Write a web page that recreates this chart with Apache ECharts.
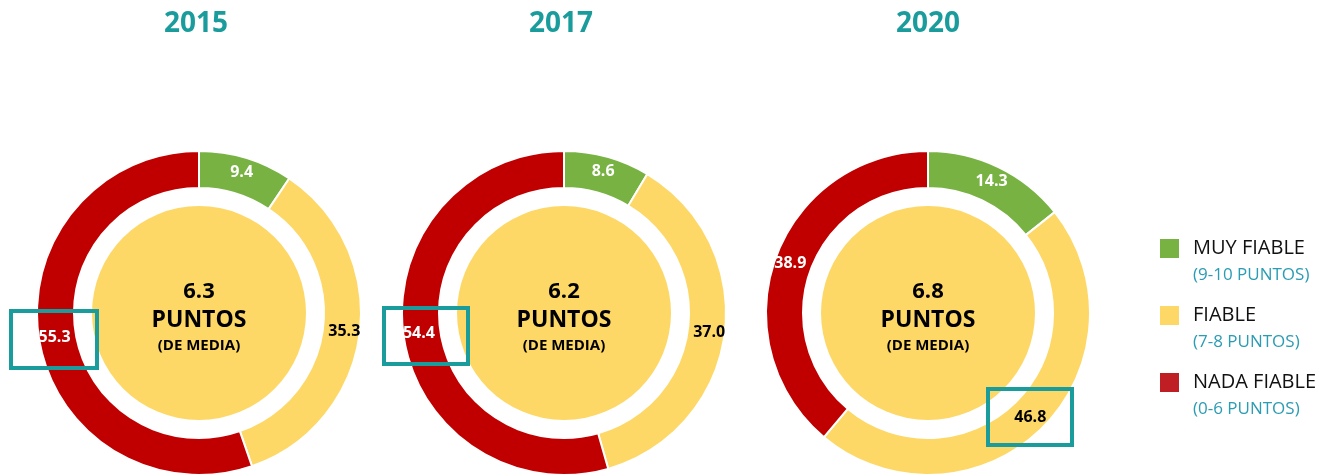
<!DOCTYPE html>
<html>
<head>
<meta charset="utf-8">
<script src="https://cdn.jsdelivr.net/npm/echarts@6/dist/echarts.min.js"></script>
<style>
html, body { margin: 0; padding: 0; background: #fff; }
#main { width: 1322px; height: 475px; }
</style>
</head>
<body>
<div id="main"></div>
<script>
var years = ['2015', '2017', '2020'];
var categories = ['MUY FIABLE', 'FIABLE', 'NADA FIABLE'];
var ranges = ['(9-10 PUNTOS)', '(7-8 PUNTOS)', '(0-6 PUNTOS)'];
var muyFiable = [9.4, 8.6, 14.3];
var fiable = [35.3, 37.0, 46.8];
var nadaFiable = [55.3, 54.4, 38.9];
var mediaPuntos = [6.3, 6.2, 6.8];

var chartDom = document.getElementById('main');
var myChart = echarts.init(chartDom);
var option;

var colors = ['#77b243', '#fdd867', '#c00000'];
var legendColors = ['#77b243', '#fdd867', '#be1e24'];
var labelColors = ['#fff', '#000', '#fff'];
var teal = '#1b9c9c';
var centersX = [199, 564, 928];
var titleX = [196, 561, 928];
var centerY = 313;

var series = [];
years.forEach(function (year, i) {
    var values = [muyFiable[i], fiable[i], nadaFiable[i]];
    series.push({
        type: 'pie',
        center: [centersX[i], centerY],
        radius: [125, 162],
        startAngle: 90,
        clockwise: true,
        silent: true,
        avoidLabelOverlap: false,
        itemStyle: {
            borderColor: '#fff',
            borderWidth: 2
        },
        label: {
            show: true,
            position: 'inside',
            fontFamily: 'Open Sans',
            fontWeight: 'bold',
            fontSize: 16,
            formatter: function (p) {
                return p.value.toFixed(1);
            }
        },
        labelLine: { show: false },
        data: values.map(function (v, k) {
            return {
                name: categories[k],
                value: v,
                itemStyle: { color: colors[k] },
                label: { color: labelColors[k] }
            };
        })
    });
    // circulo central con la media
    series.push({
        type: 'pie',
        center: [centersX[i], centerY],
        radius: [0, 107],
        silent: true,
        label: {
            show: true,
            position: 'center',
            formatter: '{n|' + mediaPuntos[i].toFixed(1) + '}\n{a|PUNTOS}\n{b|(DE MEDIA)}',
            padding: [8, 0, 0, 0],
            rich: {
                n: {
                    fontFamily: 'Open Sans',
                    fontWeight: 'bold',
                    fontSize: 22,
                    lineHeight: 29,
                    color: '#000'
                },
                a: {
                    fontFamily: 'Open Sans',
                    fontWeight: 'bold',
                    fontSize: 23,
                    lineHeight: 29,
                    color: '#000'
                },
                b: {
                    fontFamily: 'Open Sans',
                    fontWeight: 'bold',
                    fontSize: 15,
                    lineHeight: 22,
                    color: '#000'
                }
            }
        },
        labelLine: { show: false },
        data: [{ name: 'media ' + year, value: mediaPuntos[i], itemStyle: { color: colors[1] } }]
    });
});

option = {
    backgroundColor: '#fff',
    animation: false,
    title: years.map(function (year, i) {
        return {
            text: year,
            left: titleX[i] - 5,
            top: 5,
            textAlign: 'center',
            textStyle: {
                fontFamily: 'Open Sans',
                fontWeight: 'bold',
                fontSize: 28,
                color: teal
            }
        };
    }),
    legend: {
        orient: 'vertical',
        left: 1153,
        top: 212,
        itemWidth: 21,
        itemHeight: 21,
        itemGap: 0,
        selectedMode: false,
        icon: 'rect',
        data: categories.map(function (c, k) {
            return { name: c, itemStyle: { color: legendColors[k] } };
        }),
        formatter: function (name) {
            var k = categories.indexOf(name);
            return '{c| }\n{a|' + name + '}\n{b|' + ranges[k] + '}';
        },
        textStyle: {
            rich: {
                a: {
                    fontFamily: 'Open Sans',
                    fontSize: 20,
                    lineHeight: 24,
                    color: '#111',
                    padding: [0, 0, 0, 8]
                },
                b: {
                    fontFamily: 'Open Sans',
                    fontSize: 17,
                    lineHeight: 24,
                    color: '#2a9cb3',
                    padding: [6, 0, 0, 8]
                },
                c: {
                    fontSize: 15,
                    lineHeight: 24
                }
            }
        }
    },
    graphic: [
        { type: 'rect', z: 100, shape: { x: 11, y: 311, width: 86, height: 57 }, style: { fill: null, stroke: teal, lineWidth: 4 } },
        { type: 'rect', z: 100, shape: { x: 384, y: 308, width: 84, height: 56 }, style: { fill: null, stroke: teal, lineWidth: 4 } },
        { type: 'rect', z: 100, shape: { x: 988, y: 389, width: 84, height: 56 }, style: { fill: null, stroke: teal, lineWidth: 4 } }
    ],
    series: series
};

option && myChart.setOption(option);
window.addEventListener('resize', function () {
    myChart.resize();
});
</script>
</body>
</html>
